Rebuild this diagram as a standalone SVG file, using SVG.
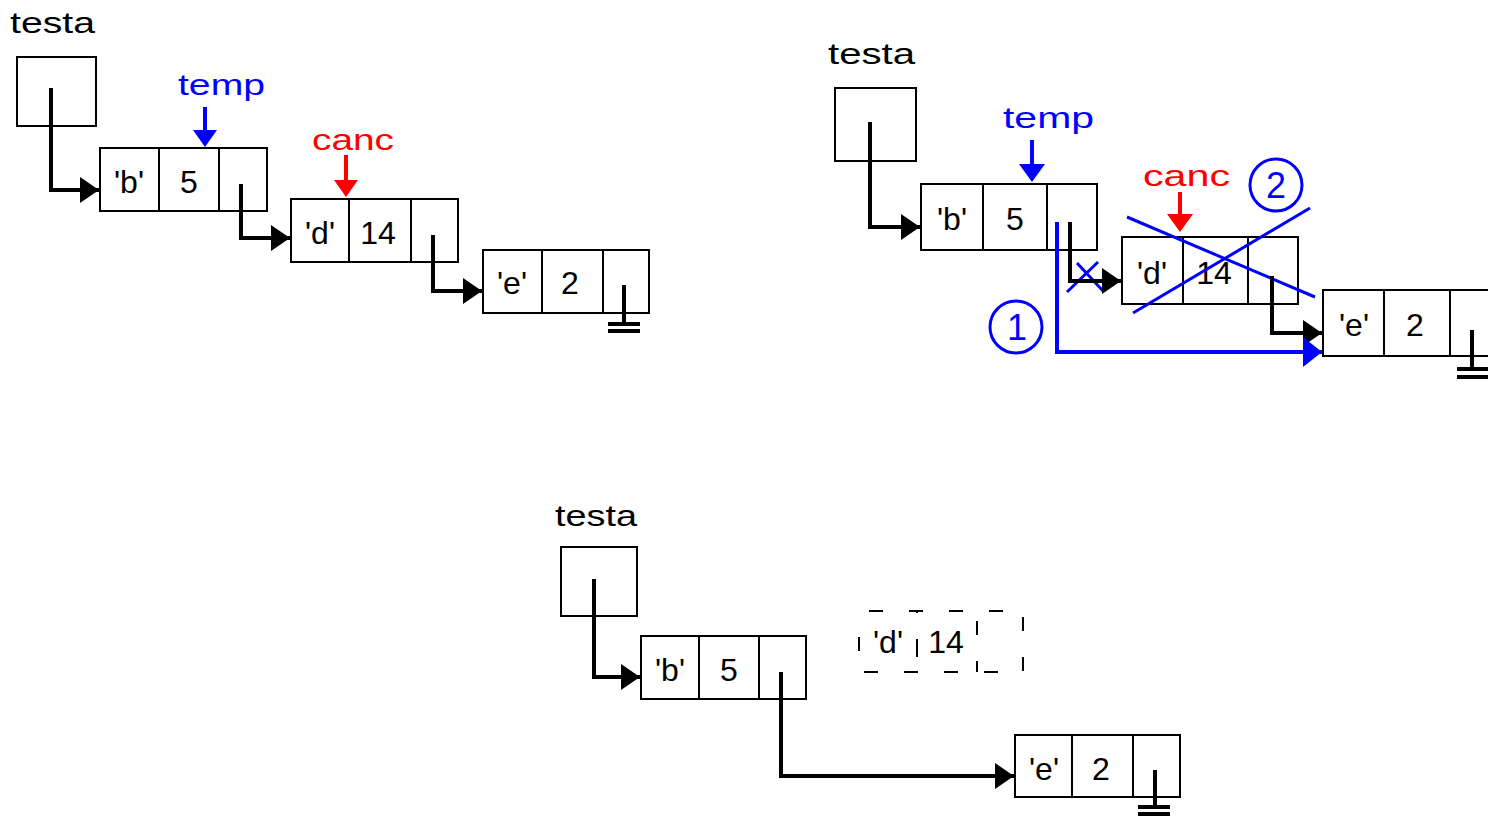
<svg xmlns="http://www.w3.org/2000/svg" width="1488" height="819" viewBox="0 0 1488 819">
<style>
.box{fill:#fff;stroke:#000;stroke-width:2}
.dash{fill:none;stroke:#000;stroke-width:2;stroke-dasharray:14 26}
.div{stroke:#000;stroke-width:2}
.ptr{fill:none;stroke:#000;stroke-width:4}
.bptr{fill:none;stroke:#0000ff;stroke-width:4}
.cross{fill:none;stroke:#0000ff;stroke-width:3}
.lbl{font-family:"Liberation Sans",Arial,sans-serif;font-size:30px}
.val{font-family:"Liberation Sans",Arial,sans-serif;font-size:32px;text-anchor:middle}
.num{font-family:"Liberation Sans",Arial,sans-serif;font-size:36px;text-anchor:middle;fill:#0000ff}
.gnd{fill:#000}
</style>
<defs>
<marker id="ah" markerUnits="userSpaceOnUse" markerWidth="22" markerHeight="28" refX="19" refY="14" orient="auto">
<polygon points="0,1 19,14 0,27" fill="#000"/>
</marker>
<marker id="ahb" markerUnits="userSpaceOnUse" markerWidth="22" markerHeight="32" refX="19" refY="16" orient="auto">
<polygon points="0,1 19,16 0,31" fill="#0000ff"/>
</marker>
</defs>

<!-- Diagram 1 -->
<g id="d1-testa">
<text class="lbl" x="10" y="33" fill="#000" textLength="85" lengthAdjust="spacingAndGlyphs">testa</text>
<rect class="box" x="17" y="57" width="79" height="69"/>
</g>
<g id="d1-node-b">
<rect class="box" x="100" y="148" width="167" height="63"/>
<line class="div" x1="159" y1="148" x2="159" y2="211"/>
<line class="div" x1="219" y1="148" x2="219" y2="211"/>
<text class="val" x="129" y="193">'b'</text>
<text class="val" x="189" y="193">5</text>
</g>
<g id="d1-temp">
<text class="lbl" x="178" y="95" fill="#0000ff" textLength="87" lengthAdjust="spacingAndGlyphs">temp</text>
<line x1="205" y1="107" x2="205" y2="132" stroke="#0000ff" stroke-width="4"/>
<polygon points="193,130 217,130 205,147" fill="#0000ff"/>
</g>
<g id="d1-node-d">
<rect class="box" x="291" y="199" width="167" height="63"/>
<line class="div" x1="349" y1="199" x2="349" y2="262"/>
<line class="div" x1="411" y1="199" x2="411" y2="262"/>
<text class="val" x="320" y="244">'d'</text>
<text class="val" x="378" y="244">14</text>
</g>
<g id="d1-canc">
<text class="lbl" x="312" y="150" fill="#ff0000" textLength="82" lengthAdjust="spacingAndGlyphs">canc</text>
<line x1="346" y1="155" x2="346" y2="182" stroke="#ff0000" stroke-width="4"/>
<polygon points="334,180 358,180 346,197" fill="#ff0000"/>
</g>
<g id="d1-node-e">
<rect class="box" x="483" y="250" width="166" height="63"/>
<line class="div" x1="542" y1="250" x2="542" y2="313"/>
<line class="div" x1="603" y1="250" x2="603" y2="313"/>
<text class="val" x="512" y="294">'e'</text>
<text class="val" x="570" y="294">2</text>
<line class="ptr" x1="624" y1="285" x2="624" y2="324"/>
<rect class="gnd" x="608" y="322" width="32" height="4"/>
<rect class="gnd" x="608" y="329" width="32" height="4"/>
</g>

<!-- Diagram 2 -->
<g id="d2-testa">
<text class="lbl" x="828" y="64" fill="#000" textLength="87" lengthAdjust="spacingAndGlyphs">testa</text>
<rect class="box" x="835" y="88" width="81" height="73"/>
</g>
<g id="d2-node-b">
<rect class="box" x="921" y="184" width="176" height="66"/>
<line class="div" x1="983" y1="184" x2="983" y2="250"/>
<line class="div" x1="1047" y1="184" x2="1047" y2="250"/>
<text class="val" x="952" y="230">'b'</text>
<text class="val" x="1015" y="230">5</text>
</g>
<g id="d2-temp">
<text class="lbl" x="1003" y="128" fill="#0000ff" textLength="91" lengthAdjust="spacingAndGlyphs">temp</text>
<line x1="1032" y1="140" x2="1032" y2="166" stroke="#0000ff" stroke-width="4"/>
<polygon points="1019,164 1045,164 1032,182" fill="#0000ff"/>
</g>
<g id="d2-node-d">
<rect class="box" x="1122" y="237" width="176" height="67"/>
<line class="div" x1="1183" y1="237" x2="1183" y2="304"/>
<line class="div" x1="1248" y1="237" x2="1248" y2="304"/>
<text class="val" x="1152" y="284">'d'</text>
<text class="val" x="1214" y="284">14</text>
</g>
<g id="d2-canc">
<text class="lbl" x="1143" y="186" fill="#ff0000" textLength="87" lengthAdjust="spacingAndGlyphs">canc</text>
<line x1="1180" y1="192" x2="1180" y2="216" stroke="#ff0000" stroke-width="4"/>
<polygon points="1167,214 1193,214 1180,232" fill="#ff0000"/>
</g>
<g id="d2-node-e">
<rect class="box" x="1323" y="290" width="176" height="66"/>
<line class="div" x1="1384" y1="290" x2="1384" y2="356"/>
<line class="div" x1="1450" y1="290" x2="1450" y2="356"/>
<text class="val" x="1354" y="336">'e'</text>
<text class="val" x="1415" y="336">2</text>
<line class="ptr" x1="1472" y1="330" x2="1472" y2="370"/>
<rect class="gnd" x="1457" y="367" width="31" height="4"/>
<rect class="gnd" x="1457" y="375" width="31" height="4"/>
</g>
<g id="d2-step1">
<circle cx="1016" cy="327" r="26" fill="none" stroke="#0000ff" stroke-width="3"/>
<text class="num" x="1017" y="340">1</text>
</g>
<g id="d2-step2">
<circle cx="1276" cy="185" r="26" fill="none" stroke="#0000ff" stroke-width="3"/>
<text class="num" x="1276" y="198">2</text>
</g>
<g id="d2-crosses">
<line class="cross" x1="1127" y1="217" x2="1315" y2="297"/>
<line class="cross" x1="1133" y1="313" x2="1310" y2="208"/>
<line class="cross" x1="1067" y1="292" x2="1098" y2="262"/>
<line class="cross" x1="1077" y1="263" x2="1104" y2="292"/>
</g>

<!-- Diagram 3 -->
<g id="d3-testa">
<text class="lbl" x="555" y="526" fill="#000" textLength="82" lengthAdjust="spacingAndGlyphs">testa</text>
<rect class="box" x="561" y="547" width="76" height="69"/>
</g>
<g id="d3-node-b">
<rect class="box" x="641" y="636" width="165" height="63"/>
<line class="div" x1="699" y1="636" x2="699" y2="699"/>
<line class="div" x1="759" y1="636" x2="759" y2="699"/>
<text class="val" x="670" y="681">'b'</text>
<text class="val" x="729" y="681">5</text>
</g>
<g id="d3-node-d">
<rect class="dash" x="859" y="611" width="164" height="61" stroke-dashoffset="-10"/>
<line class="div" x1="917" y1="611" x2="917" y2="672" stroke-dasharray="2 26 18 40"/>
<line class="div" x1="977" y1="611" x2="977" y2="672" stroke-dasharray="0 10 14 26 20"/>
<text class="val" x="888" y="653">'d'</text>
<text class="val" x="946" y="653">14</text>
</g>
<g id="d3-node-e">
<rect class="box" x="1015" y="735" width="165" height="62"/>
<line class="div" x1="1072" y1="735" x2="1072" y2="797"/>
<line class="div" x1="1133" y1="735" x2="1133" y2="797"/>
<text class="val" x="1044" y="780">'e'</text>
<text class="val" x="1101" y="780">2</text>
<line class="ptr" x1="1155" y1="770" x2="1155" y2="808"/>
<rect class="gnd" x="1138" y="805" width="32" height="4"/>
<rect class="gnd" x="1138" y="812" width="32" height="4"/>
</g>

<!-- Connectors -->
<g id="connectors">
<polyline class="ptr" points="51,88 51,190 99,190" marker-end="url(#ah)"/>
<polyline class="ptr" points="241,184 241,238 290,238" marker-end="url(#ah)"/>
<polyline class="ptr" points="433,235 433,291 482,291" marker-end="url(#ah)"/>
<polyline class="ptr" points="870,122 870,227 920,227" marker-end="url(#ah)"/>
<polyline class="ptr" points="1070,222 1070,281 1121,281" marker-end="url(#ah)"/>
<polyline class="ptr" points="1272,276 1272,333 1322,333" marker-end="url(#ah)"/>
<polyline class="bptr" points="1057,222 1057,352 1322,352" marker-end="url(#ahb)"/>
<polyline class="ptr" points="594,579 594,677 640,677" marker-end="url(#ah)"/>
<polyline class="ptr" points="781,672 781,776 1014,776" marker-end="url(#ah)"/>
</g>
</svg>
